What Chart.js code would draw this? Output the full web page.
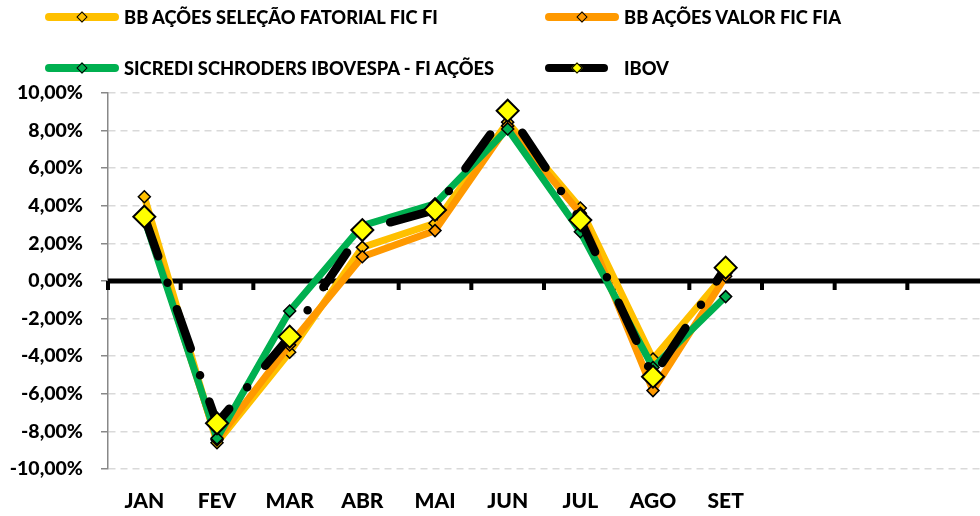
<!DOCTYPE html>
<html lang="pt-BR">
<head>
  <meta charset="UTF-8">
  <title>Rentabilidade mensal - fundos x IBOV</title>
  <script src="https://cdn.jsdelivr.net/npm/chart.js"></script>
  <style>
    body {
      margin: 0;
      background: #fff;
      font-family: Lato, sans-serif;
    }
    #wrap {
      position: relative;
      width: 980px;
      height: 516px;
      overflow: hidden;
    }
    canvas {
      position: absolute;
      left: 0;
      top: 0;
    }
    .leg {
      position: absolute;
      display: flex;
      align-items: center;
      height: 20px;
      font-weight: 900;
      font-size: 18.3px;
      color: #000;
      white-space: nowrap;
    }
    .leg .sw {
      position: relative;
      height: 8px;
      border-radius: 4px;
    }
    .leg .sw i {
      position: absolute;
      left: 50%;
      top: 50%;
      width: 6px;
      height: 6px;
      border: 1.5px solid #000;
      transform: translate(-50%, -50%) rotate(45deg);
    }
  </style>
</head>
<body>
  <div id="wrap">
    <canvas id="chart" width="980" height="516"></canvas>
  </div>

  <script>
    const months = ['JAN', 'FEV', 'MAR', 'ABR', 'MAI', 'JUN', 'JUL', 'AGO', 'SET', '', '', ''];
    const names = ['BB AÇÕES SELEÇÃO FATORIAL FIC FI', 'BB AÇÕES VALOR FIC FIA',
                   'SICREDI SCHRODERS IBOVESPA - FI AÇÕES', 'IBOV'];
    // rentabilidade mensal em %
    const fatorial = [4.48, -8.60, -3.79, 1.79, 3.07, 8.45, 3.88, -4.15, 0.40];
    const valor    = [3.50, -8.45, -3.40, 1.29, 2.68, 8.25, 3.60, -5.83, 0.25];
    const sicredi  = [3.30, -8.37, -1.60, 2.95, 4.10, 8.09, 2.62, -4.60, -0.83];
    const ibov     = [3.42, -7.57, -2.96, 2.71, 3.78, 9.06, 3.24, -5.09, 0.71];

    const colors = ['#FFC000', '#FF9900', '#00B050', '#000000'];
    const markerColors = ['#FFC000', '#FF9900', '#00B050', '#FFFF00'];

    // legend (html, two columns)
    const legPos = [[45, 7, 74], [545, 7, 74], [45, 58, 74], [545, 58, 63]];
    const wrap = document.getElementById('wrap');
    names.forEach((n, i) => {
      const d = document.createElement('div');
      d.className = 'leg';
      d.style.left = legPos[i][0] + 'px';
      d.style.top = legPos[i][1] + 'px';
      const sw = document.createElement('span');
      sw.className = 'sw';
      sw.style.width = legPos[i][2] + 'px';
      sw.style.background = colors[i];
      sw.style.marginRight = (79 - legPos[i][2]) + 'px';
      const mk = document.createElement('i');
      mk.style.background = markerColors[i];
      sw.appendChild(mk);
      d.appendChild(sw);
      d.appendChild(document.createTextNode(n));
      wrap.appendChild(d);
    });

    const zeroLine = {
      id: 'zeroLine',
      beforeDatasetsDraw(chart) {
        const { ctx, chartArea, scales: { x, y } } = chart;
        const y0 = y.getPixelForValue(0);
        ctx.save();
        ctx.fillStyle = '#000';
        ctx.fillRect(chartArea.left, y0 - 2.5, chartArea.right - chartArea.left, 5);
        for (let i = 0; i < months.length; i++) {
          const bx = i === 0 ? chartArea.left : (x.getPixelForValue(i - 1) + x.getPixelForValue(i)) / 2;
          ctx.fillRect(bx - 2, y0, 4, 9);
        }
        ctx.restore();
      }
    };

    function series(i, data, order) {
      return {
        label: names[i],
        data: data,
        borderColor: colors[i],
        backgroundColor: markerColors[i],
        borderWidth: 7,
        borderJoinStyle: 'round',
        borderCapStyle: 'round',
        pointStyle: 'rectRot',
        pointRadius: 6,
        pointBorderColor: '#000',
        pointBorderWidth: 1.5,
        pointBackgroundColor: markerColors[i],
        tension: 0,
        order: order
      };
    }

    const ibovSet = series(3, ibov, 1);
    ibovSet.borderWidth = 8.5;
    ibovSet.borderDash = [42, 28, 0, 28];
    ibovSet.pointRadius = 11;
    ibovSet.pointBorderWidth = 2;

    new Chart(document.getElementById('chart'), {
      type: 'line',
      data: {
        labels: months,
        datasets: [
          series(0, fatorial, 4),
          series(1, valor, 3),
          series(2, sicredi, 2),
          ibovSet
        ]
      },
      plugins: [zeroLine],
      options: {
        responsive: false,
        animation: false,
        layout: { autoPadding: false, padding: { top: 93, right: -8, bottom: 0, left: 0 } },
        plugins: {
          legend: { display: false },
          tooltip: { enabled: false }
        },
        scales: {
          x: {
            offset: true,
            grid: {
              display: true,
              drawOnChartArea: false,
              drawTicks: true,
              tickLength: 20,
              tickColor: 'rgba(0,0,0,0)'
            },
            border: { display: false },
            ticks: {
              color: '#000',
              font: { family: 'Lato', weight: '900', size: 21 },
              padding: 0,
              maxRotation: 0,
              autoSkip: false
            },
            afterFit(s) {
              s.height = 47;
              s.paddingLeft = 0;
              s.paddingRight = 0;
            }
          },
          y: {
            min: -10,
            max: 10,
            ticks: {
              stepSize: 2,
              color: '#000',
              font: { family: 'Lato', weight: '900', size: 19.5 },
              padding: 18,
              callback: v => v.toFixed(2).replace('.', ',') + '%'
            },
            grid: {
              color: '#D9D9D9',
              lineWidth: 1.5,
              tickLength: 7,
              tickColor: '#888888'
            },
            border: { display: true, color: '#888888', width: 1.5, dash: [7, 5] },
            afterFit(s) { s.width = 108; }
          }
        }
      }
    });
  </script>
</body>
</html>
